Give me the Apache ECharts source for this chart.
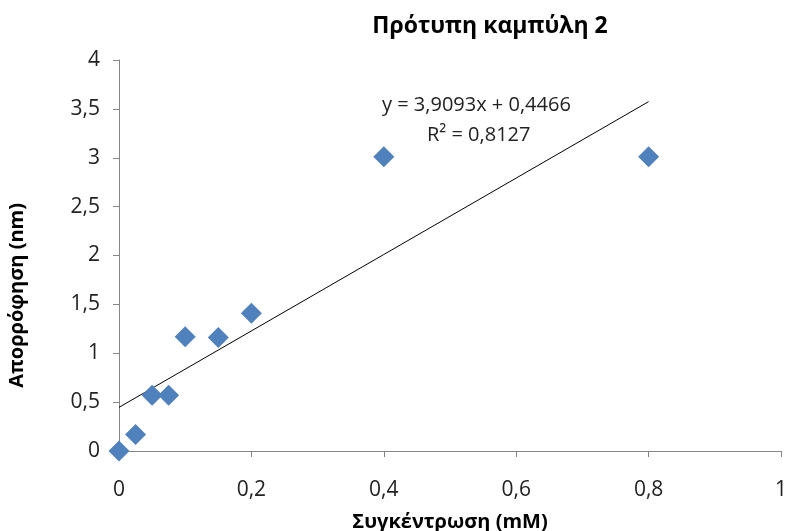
<!DOCTYPE html>
<html>
<head>
<meta charset="utf-8">
<script src="https://cdn.jsdelivr.net/npm/echarts@6/dist/echarts.min.js"></script>
<style>
html, body { margin: 0; padding: 0; background: #fff; }
#chart { width: 789px; height: 531px; }
</style>
</head>
<body>
<div id="chart"></div>
<script>
// concentration (mM) and absorbance values
const concentration = [0, 0.025, 0.05, 0.075, 0.1, 0.15, 0.2, 0.4, 0.8];
const absorbance = [0, 0.17, 0.57, 0.57, 1.17, 1.16, 1.41, 3.01, 3.01];

// linear trendline as printed on the chart
const slope = 3.9093;
const intercept = 0.4466;
const trendX = [0, 0.8];

const xTicks = [0, 0.2, 0.4, 0.6, 0.8, 1];
const yTicks = [0, 0.5, 1, 1.5, 2, 2.5, 3, 3.5, 4];

const font = '"Open Sans", "Noto Sans", sans-serif';
const comma = v => String(v).replace('.', ',');

const points = concentration.map((x, i) => [x, absorbance[i]]);
const trend = trendX.map(x => [x, slope * x + intercept]);

const chart = echarts.init(document.getElementById('chart'));
chart.setOption({
  animation: false,
  textStyle: { fontFamily: font },
  title: {
    text: 'Πρότυπη καμπύλη 2',
    left: 485,
    top: 10,
    textAlign: 'center',
    textStyle: { fontSize: 23, fontWeight: 'bold', color: '#000', fontFamily: font }
  },
  grid: { left: 119, right: 8, top: 60, bottom: 80, outerBoundsMode: 'none' },
  xAxis: {
    type: 'value',
    min: 0,
    max: 1,
    interval: 0.2,
    name: 'Συγκέντρωση (mM)',
    nameLocation: 'middle',
    nameGap: 61,
    nameTextStyle: { fontSize: 20, fontWeight: 'bold', color: '#000', fontFamily: font },
    axisLine: { lineStyle: { color: '#868686' } },
    axisTick: { show: true, inside: false, length: 6, lineStyle: { color: '#868686' } },
    splitLine: { show: false },
    axisLabel: {
      fontSize: 21, color: '#222', margin: 29, fontFamily: font,
      formatter: v => comma(+v.toFixed(1))
    }
  },
  yAxis: {
    type: 'value',
    min: 0,
    max: 4,
    interval: 0.5,
    axisLine: { show: true, lineStyle: { color: '#868686' } },
    axisTick: { show: true, inside: false, length: 6, lineStyle: { color: '#868686' } },
    splitLine: { show: false },
    axisLabel: {
      fontSize: 21, color: '#222', margin: 19, fontFamily: font,
      formatter: v => comma(v)
    }
  },
  graphic: [
    {
      type: 'text',
      left: 7,
      top: 203,
      rotation: Math.PI / 2,
      style: {
        text: 'Απορρόφηση (nm)',
        font: 'bold 20px ' + font,
        fill: '#000'
      }
    },
    {
      type: 'text',
      left: 382,
      top: 95,
      style: {
        text: 'y = ' + comma(slope) + 'x + ' + comma(intercept),
        font: '20px ' + font,
        fill: '#222'
      }
    },
    {
      type: 'text',
      left: 427,
      top: 125,
      style: {
        text: 'R² = 0,8127',
        font: '20px ' + font,
        fill: '#222'
      }
    }
  ],
  series: [
    {
      type: 'line',
      data: trend,
      symbol: 'none',
      lineStyle: { color: '#000', width: 1 },
      z: 1
    },
    {
      type: 'scatter',
      data: points,
      symbol: 'diamond',
      symbolSize: 21,
      itemStyle: { color: '#4F81BD', opacity: 1 },
      z: 2
    }
  ]
});
</script>
</body>
</html>
